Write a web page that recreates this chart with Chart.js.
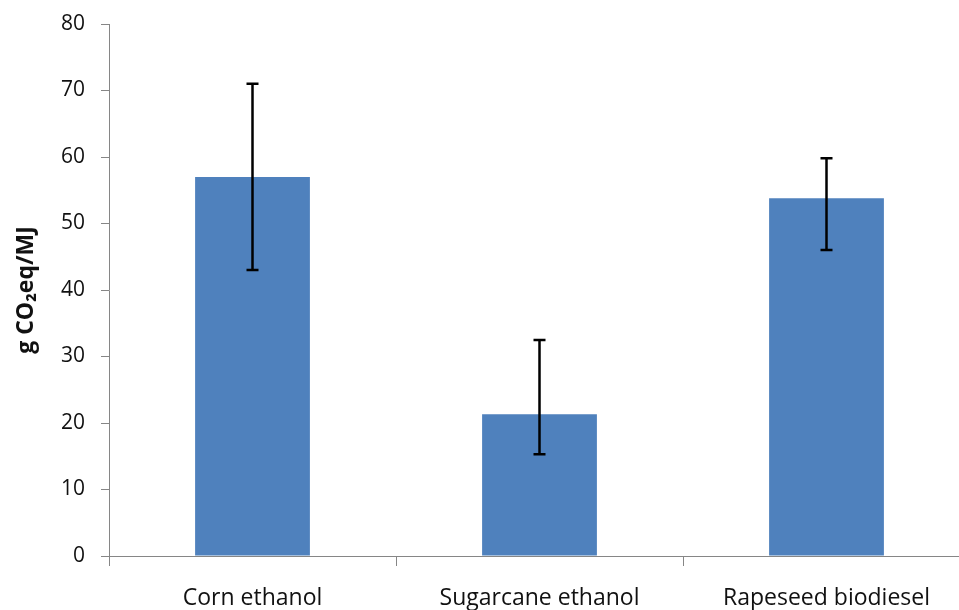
<!DOCTYPE html>
<html>
<head>
<meta charset="utf-8">
<script src="https://cdn.jsdelivr.net/npm/chart.js@4/dist/chart.umd.min.js"></script>
<style>
  html, body { margin: 0; padding: 0; background: #fff; overflow: hidden; }
  #wrap { position: relative; width: 973px; height: 610px; }
</style>
</head>
<body>
<div id="wrap"><canvas id="c"></canvas></div>
<script>
const categories = ["Corn ethanol", "Sugarcane ethanol", "Rapeseed biodiesel"];
const values = [57.0, 21.3, 53.8];
const errLow = [43.0, 15.3, 46.0];
const errHigh = [71.0, 32.5, 59.8];
const yTicks = [0, 10, 20, 30, 40, 50, 60, 70, 80];

const errorBars = {
  id: 'errorBars',
  afterDatasetsDraw(chart) {
    const ctx = chart.ctx;
    const meta = chart.getDatasetMeta(0);
    const y = chart.scales.y;
    ctx.save();
    ctx.strokeStyle = '#000';
    ctx.lineWidth = 2.5;
    meta.data.forEach((bar, i) => {
      const x = bar.x;
      const yl = y.getPixelForValue(errLow[i]);
      const yh = y.getPixelForValue(errHigh[i]);
      ctx.beginPath();
      ctx.moveTo(x, yl); ctx.lineTo(x, yh);
      ctx.moveTo(x - 6, yl); ctx.lineTo(x + 6, yl);
      ctx.moveTo(x - 6, yh); ctx.lineTo(x + 6, yh);
      ctx.stroke();
    });
    ctx.restore();
  }
};

new Chart(document.getElementById('c'), {
  type: 'bar',
  data: {
    labels: categories,
    datasets: [{
      data: values,
      backgroundColor: '#4F81BD',
      borderWidth: 0,
      categoryPercentage: 1.0,
      barPercentage: 0.4
    }]
  },
  options: {
    responsive: true,
    maintainAspectRatio: false,
    animation: false,
    layout: { padding: { top: 24, right: 3, left: 0, bottom: 0 } },
    plugins: { legend: { display: false }, tooltip: { enabled: false } },
    scales: {
      x: {
        afterFit(scale) { scale.height = 54; scale.paddingLeft = 0; scale.paddingRight = 0; },
        grid: { display: true, drawOnChartArea: false, drawTicks: true, tickLength: 10, color: '#868686', offset: true },
        border: { display: true, color: '#868686', width: 1 },
        ticks: { color: '#111', padding: 19, font: { family: 'Open Sans', size: 23 } }
      },
      y: {
        min: 0, max: 80,
        afterFit(scale) { scale.width = 109; scale.paddingTop = 0; scale.paddingBottom = 0; },
        afterBuildTicks(scale) { scale.ticks = yTicks.map(v => ({ value: v })); },
        grid: { display: true, drawOnChartArea: false, drawTicks: true, tickLength: 8, color: '#868686' },
        border: { display: true, color: '#868686', width: 1 },
        ticks: { color: '#111', padding: 16, font: { family: 'Open Sans', size: 21 } },
        title: { display: true, text: 'g CO₂eq/MJ', color: '#111', padding: { top: 13, bottom: 0 }, font: { family: 'Open Sans', size: 23, weight: 'bold' } }
      }
    }
  },
  plugins: [errorBars]
});
</script>
</body>
</html>
